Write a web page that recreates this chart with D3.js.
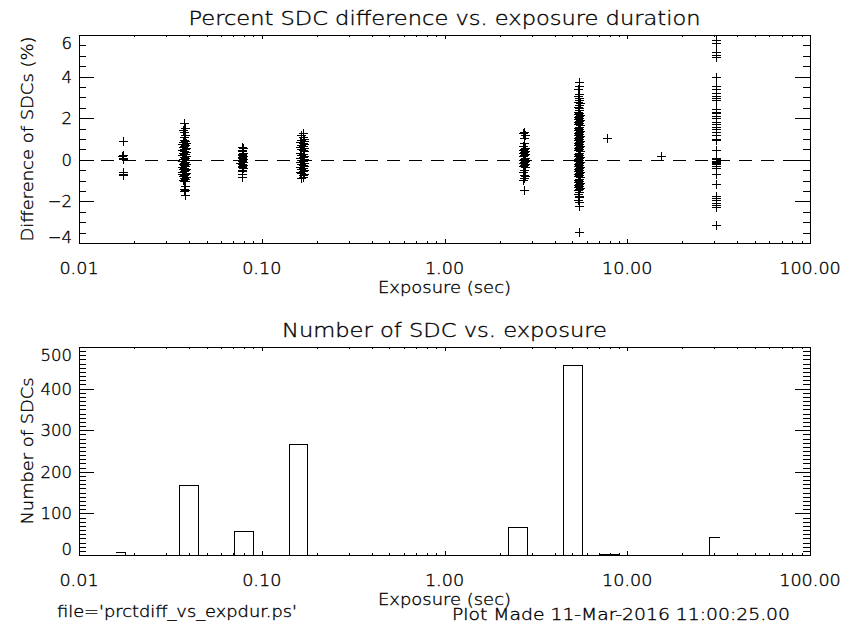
<!DOCTYPE html>
<html>
<head>
<meta charset="utf-8">
<script src="https://cdn.jsdelivr.net/npm/d3@7"></script>
<style>
  html, body { margin: 0; padding: 0; background: #fff; }
  svg { display: block; font-family: "DejaVu Sans", sans-serif; font-weight: 200; }
  text { fill: #000; stroke: #000; stroke-width: 0.35; }
</style>
</head>
<body>
<svg id="chart" width="844" height="632"></svg>
<script>
// Percent SDC difference per frame, as [exposure (s), difference (%)], grouped by exposure setting
const grp0017 = [[0.0173,0.88],[0.0174,0.24],[0.0172,0.16],[0.0174,0.08],[0.0173,0.02],[0.0173,-0.59],[0.0174,-0.69],[0.0173,-0.75]];

const grp0038 = [
  [0.0376,1.76],[0.0381,1.52],[0.0371,1.44],[0.0376,1.36],[0.0381,1.20],[0.0376,1.12],
  [0.0376,0.95],[0.0381,0.90],[0.0371,0.86],[0.0386,0.82],[0.0376,0.78],[0.0366,0.74],[0.0381,0.70],[0.0376,0.66],
  [0.0371,0.62],[0.0386,0.58],[0.0376,0.54],[0.0381,0.50],[0.0366,0.46],[0.0376,0.42],[0.0386,0.38],[0.0371,0.34],
  [0.0381,0.30],[0.0376,0.26],[0.0366,0.22],[0.0386,0.18],[0.0376,0.14],[0.0381,0.10],[0.0371,0.06],[0.0376,0.02],
  [0.0386,-0.02],[0.0366,-0.06],[0.0381,-0.10],[0.0376,-0.14],[0.0371,-0.18],[0.0386,-0.22],[0.0376,-0.26],[0.0381,-0.30],
  [0.0366,-0.34],[0.0376,-0.38],[0.0386,-0.42],[0.0371,-0.46],[0.0381,-0.50],[0.0376,-0.54],[0.0366,-0.58],[0.0386,-0.62],
  [0.0366,-0.66],[0.0381,-0.70],[0.0376,-0.74],[0.0371,-0.78],[0.0386,-0.82],[0.0376,-0.86],[0.0381,-0.90],[0.0371,-0.95],
  [0.0376,-1.00],[0.0381,-1.04],
  [0.0381,-1.28],[0.0376,-1.40],[0.0381,-1.44],[0.0376,-1.52],[0.0381,-1.68]
];

const grp0078 = [
  [0.0784,0.62],[0.0792,0.55],[0.0784,0.48],[0.0776,0.40],[0.0792,0.35],[0.0784,0.30],[0.0776,0.25],[0.0792,0.20],
  [0.0784,0.15],[0.0776,0.10],[0.0792,0.05],[0.0784,0.00],[0.0776,-0.05],[0.0792,-0.10],[0.0760,-0.15],[0.0784,-0.20],
  [0.0792,-0.25],[0.0776,-0.30],[0.0784,-0.35],[0.0792,-0.40],[0.0784,-0.50],[0.0776,-0.56],[0.0784,-0.69],[0.0784,-0.82]
];

const grp0167 = [
  [0.168,1.27],[0.165,1.18],[0.168,1.10],[0.171,1.02],
  [0.165,0.95],[0.171,0.90],[0.162,0.85],[0.168,0.80],[0.171,0.75],[0.165,0.70],[0.168,0.65],[0.162,0.60],
  [0.171,0.55],[0.165,0.50],[0.168,0.45],[0.171,0.40],[0.162,0.35],[0.168,0.30],[0.165,0.25],[0.171,0.20],
  [0.168,0.15],[0.162,0.10],[0.171,0.05],[0.165,0.00],[0.168,-0.05],[0.162,-0.10],[0.171,-0.15],[0.165,-0.20],
  [0.168,-0.25],[0.171,-0.30],[0.162,-0.35],[0.168,-0.40],[0.165,-0.45],[0.171,-0.50],[0.168,-0.55],[0.162,-0.60],
  [0.165,-0.65],[0.171,-0.70],[0.168,-0.75],
  [0.168,-0.82],[0.165,-0.88]
];

const grp27 = [
  [2.72,1.36],[2.69,1.28],[2.75,1.20],[2.72,1.04],[2.72,0.80],[2.69,0.64],
  [2.75,0.56],[2.72,0.51],[2.69,0.46],[2.75,0.41],[2.72,0.36],[2.69,0.31],[2.75,0.26],[2.72,0.21],[2.69,0.16],
  [2.75,0.11],[2.72,0.06],[2.69,0.01],[2.75,-0.04],[2.72,-0.09],[2.69,-0.14],[2.75,-0.19],[2.72,-0.24],[2.69,-0.29],
  [2.75,-0.36],
  [2.72,-0.48],[2.69,-0.60],[2.72,-0.72],[2.75,-0.80],[2.72,-0.88],[2.69,-0.96],[2.72,-1.47]
];

const grp54 = [
  [5.43,3.72],[5.43,3.56],[5.40,3.40],[5.45,3.14],[5.40,3.06],[5.45,2.96],[5.43,2.88],[5.40,2.80],
  [5.48,2.72],[5.43,2.64],[5.40,2.56],[5.45,2.48],[5.43,2.40],[5.38,2.32],
  [5.45,2.25],[5.40,2.20],[5.48,2.15],[5.43,2.10],[5.38,2.05],[5.45,2.00],[5.40,1.95],[5.48,1.90],[5.43,1.85],[5.38,1.80],
  [5.45,1.75],[5.40,1.70],[5.48,1.65],[5.43,1.60],[5.38,1.55],[5.45,1.50],[5.40,1.45],[5.48,1.40],[5.43,1.35],[5.38,1.30],
  [5.45,1.25],[5.40,1.20],[5.48,1.15],[5.43,1.10],[5.38,1.05],[5.45,1.00],[5.40,0.95],[5.48,0.90],[5.43,0.85],[5.38,0.80],
  [5.45,0.75],[5.40,0.70],[5.48,0.65],[5.43,0.60],[5.38,0.55],[5.45,0.50],[5.40,0.45],[5.48,0.40],[5.43,0.35],[5.38,0.30],
  [5.45,0.25],[5.40,0.20],[5.48,0.15],[5.43,0.10],[5.38,0.05],[5.45,0.00],[5.40,-0.05],[5.48,-0.10],[5.43,-0.15],[5.38,-0.20],
  [5.45,-0.25],[5.40,-0.30],[5.48,-0.35],[5.43,-0.40],[5.38,-0.45],[5.45,-0.50],[5.40,-0.55],[5.48,-0.60],[5.43,-0.65],[5.38,-0.70],
  [5.45,-0.75],[5.40,-0.80],[5.48,-0.85],[5.43,-0.90],[5.38,-0.95],[5.45,-1.00],[5.40,-1.05],[5.48,-1.10],[5.43,-1.15],[5.38,-1.20],
  [5.45,-1.25],[5.40,-1.30],[5.48,-1.35],[5.43,-1.40],[5.38,-1.45],
  [5.43,-1.56],[5.40,-1.64],[5.45,-1.72],[5.43,-1.80],[5.40,-1.92],[5.45,-2.04],[5.43,-2.20],[5.43,-3.48]
];

const grp77 = [[7.73,1.07]];
const grp153 = [[15.3,0.19]];

const grp307 = [
  [30.7,5.75],[30.7,5.62],[30.7,5.18],[30.7,5.04],[30.7,4.96],[30.7,4.00],[30.7,3.54],[30.7,3.39],[30.7,3.22],
  [30.7,3.08],[30.7,2.96],[30.7,2.88],[30.7,2.42],[30.7,2.32],[30.7,2.24],[30.7,2.12],[30.7,2.00],[30.7,1.82],
  [30.7,1.72],[30.7,1.60],[30.7,1.46],[30.7,1.32],[30.7,1.20],[30.7,1.00],[30.7,0.94],[30.7,0.46],[30.7,0.08],
  [30.7,0.02],[30.7,-0.04],[30.7,-0.10],[30.7,-0.16],[30.7,-0.22],[30.7,-0.30],[30.7,-0.38],[30.7,-0.70],[30.7,-1.14],
  [30.7,-1.74],[30.7,-1.84],[30.7,-1.94],[30.7,-2.06],[30.7,-2.18],[30.7,-2.28],[30.7,-3.12]
];

// Histogram of frame counts: bin centres (s), 0.1-decade bins, and counts
const histCenters = [0.0158,0.0200,0.0251,0.0316,0.0398,0.0501,0.0631,0.0794,0.1000,0.1259,0.1585,0.1995,
  0.2512,0.3162,0.3981,0.5012,0.6310,0.7943,1.0000,1.2589,1.5849,1.9953,2.5119,3.1623,3.9811,5.0119,
  6.3096,7.9433,10.000,12.589,15.849,19.953,25.119,31.623];
const histCounts = [8,0,0,0,168,0,0,58,0,0,266,0,
  0,0,0,0,0,0,0,0,0,0,68,0,0,456,
  0,2,0,0,1,0,0,44];

// Axis ticks and labels
const xTickValues = [0.01, 0.1, 1, 10, 100];
const xTickLabels = ["0.01", "0.10", "1.00", "10.00", "100.00"];
const diffTicks = [-4, -2, 0, 2, 4, 6];
const diffTickLabels = ["\u22124", "\u22122", "0", "2", "4", "6"];
const countTicks = [0, 100, 200, 300, 400, 500];
const countTickLabels = ["0", "100", "200", "300", "400", "500"];

const svg = d3.select("#chart");
const X0 = 79, X1 = 810;
const FS = 16.5;
// label glyphs are set on a fixed-pitch numeral grid: 11.2 px per digit, 5.6 px per point
const numWidth = s => [...s].reduce((w, c) => w + (c === "." ? 5.6 : 11.2), 0);

const xMinor = [];
[0.01, 0.1, 1, 10].forEach(dec => { for (let k = 2; k <= 9; k++) xMinor.push(dec * k); });

function drawPanel(o) {
  const x = d3.scaleLog().domain([0.01, 100]).range([X0, X1]);
  const y = d3.scaleLinear().domain(o.yDomain).range([o.bottom, o.top]);
  const g = svg.append("g");
  const h = o.bottom - o.top;
  const xMajLen = 0.02 * h, yMajLen = 0.02 * (X1 - X0);

  const strip = s => s.select(".domain").remove();
  // x ticks, bottom and top, pointing inward
  g.append("g").attr("transform", `translate(0,${o.bottom})`)
    .call(d3.axisBottom(x).tickValues(xTickValues).tickSize(-xMajLen).tickFormat("")).call(strip);
  g.append("g").attr("transform", `translate(0,${o.bottom})`)
    .call(d3.axisBottom(x).tickValues(xMinor).tickSize(-xMajLen / 2).tickFormat("")).call(strip);
  g.append("g").attr("transform", `translate(0,${o.top})`)
    .call(d3.axisTop(x).tickValues(xTickValues).tickSize(-xMajLen).tickFormat("")).call(strip);
  g.append("g").attr("transform", `translate(0,${o.top})`)
    .call(d3.axisTop(x).tickValues(xMinor).tickSize(-xMajLen / 2).tickFormat("")).call(strip);
  // y ticks, left and right, pointing inward
  g.append("g").attr("transform", `translate(${X0},0)`)
    .call(d3.axisLeft(y).tickValues(o.yTicks).tickSize(-yMajLen).tickFormat("")).call(strip);
  g.append("g").attr("transform", `translate(${X0},0)`)
    .call(d3.axisLeft(y).tickValues(o.yMinor).tickSize(-yMajLen / 2).tickFormat("")).call(strip);
  g.append("g").attr("transform", `translate(${X1},0)`)
    .call(d3.axisRight(y).tickValues(o.yTicks).tickSize(-yMajLen).tickFormat("")).call(strip);
  g.append("g").attr("transform", `translate(${X1},0)`)
    .call(d3.axisRight(y).tickValues(o.yMinor).tickSize(-yMajLen / 2).tickFormat("")).call(strip);
  g.selectAll(".tick line").attr("stroke", "#000").attr("shape-rendering", "crispEdges");

  // frame
  g.append("rect").attr("x", X0 + 0.5).attr("y", o.top + 0.5)
    .attr("width", X1 - X0).attr("height", h)
    .attr("fill", "none").attr("stroke", "#000").attr("shape-rendering", "crispEdges");

  // x tick labels
  g.selectAll(".xl").data(xTickValues).join("text")
    .attr("x", d => x(d)).attr("y", o.bottom + 31)
    .attr("text-anchor", "middle").attr("font-size", FS)
    .attr("textLength", (d, i) => numWidth(xTickLabels[i])).attr("lengthAdjust", "spacingAndGlyphs")
    .text((d, i) => xTickLabels[i]);
  // y tick labels, kept inside the frame's vertical extent
  g.selectAll(".yl").data(o.yTicks).join("text")
    .attr("x", X0 - 7)
    .attr("y", d => Math.min(Math.max(y(d), o.top + 8), o.bottom - 6) + 6)
    .attr("text-anchor", "end").attr("font-size", FS)
    .text((d, i) => o.yTickLabels[i]);

  // titles
  g.append("text").attr("x", (X0 + X1) / 2).attr("y", o.top - 10)
    .attr("text-anchor", "middle").attr("font-size", 20)
    .attr("textLength", o.titleLen).attr("lengthAdjust", "spacingAndGlyphs").text(o.title);
  g.append("text").attr("x", (X0 + X1) / 2).attr("y", o.bottom + 50)
    .attr("text-anchor", "middle").attr("font-size", FS)
    .attr("textLength", 133).attr("lengthAdjust", "spacingAndGlyphs").text("Exposure (sec)");
  g.append("text")
    .attr("transform", `translate(33,${(o.top + o.bottom) / 2}) rotate(-90)`)
    .attr("text-anchor", "middle").attr("font-size", FS)
    .attr("textLength", o.yTitleLen).attr("lengthAdjust", "spacingAndGlyphs").text(o.yTitle);

  return { g, x, y };
}

// Top panel: percent difference scatter
const diffPanel = drawPanel({
  top: 35, bottom: 243, yDomain: [-4, 6],
  yTicks: diffTicks, yTickLabels: diffTickLabels,
  yMinor: d3.range(-3.5, 6, 0.5).filter(v => Math.abs(v % 2) > 1e-6),
  title: "Percent SDC difference vs. exposure duration", titleLen: 512,
  yTitle: "Difference of SDCs (%)", yTitleLen: 205
});

diffPanel.g.append("line")
  .attr("x1", X0).attr("x2", X1)
  .attr("y1", Math.round(diffPanel.y(0)) + 0.5).attr("y2", Math.round(diffPanel.y(0)) + 0.5)
  .attr("stroke", "#000").attr("stroke-dasharray", "13,9");

const allPoints = [].concat(grp0017, grp0038, grp0078, grp0167, grp27, grp54, grp77, grp153, grp307);
diffPanel.g.append("path")
  .attr("fill", "none").attr("stroke", "#000").attr("stroke-width", 1)
  .attr("shape-rendering", "crispEdges")
  .attr("d", allPoints.map(([e, v]) => {
    const px = Math.round(diffPanel.x(e)), py = Math.round(diffPanel.y(v));
    return `M${px - 4},${py + 0.5}H${px + 5}M${px + 0.5},${py - 4}V${py + 5}`;
  }).join(""));

// Bottom panel: frame count histogram
const countPanel = drawPanel({
  top: 347, bottom: 555, yDomain: [0, 500],
  yTicks: countTicks, yTickLabels: countTickLabels,
  yMinor: d3.range(10, 500, 10).filter(v => v % 100 !== 0),
  title: "Number of SDC vs. exposure", titleLen: 325,
  yTitle: "Number of SDCs", yTitleLen: 147
});

const hp = histCenters.map((c, i) => [countPanel.x(c), Math.round(countPanel.y(histCounts[i])) + 0.5]);
let hd = `M${Math.round(hp[0][0]) + 0.5},${hp[0][1]}`;
for (let i = 0; i < hp.length - 1; i++) {
  const mid = Math.round((hp[i][0] + hp[i + 1][0]) / 2) + 0.5;
  hd += `H${mid}V${hp[i + 1][1]}`;
}
hd += `H${Math.round(hp[hp.length - 1][0]) + 0.5}`;
countPanel.g.append("path").attr("d", hd)
  .attr("fill", "none").attr("stroke", "#000").attr("shape-rendering", "crispEdges");

// Footer
svg.append("text").attr("x", 57).attr("y", 617).attr("font-size", 15.5)
  .attr("textLength", 240).attr("lengthAdjust", "spacingAndGlyphs")
  .text("file='prctdiff_vs_expdur.ps'");
svg.append("text").attr("x", 452).attr("y", 620).attr("font-size", 15.5)
  .attr("textLength", 338).attr("lengthAdjust", "spacingAndGlyphs")
  .text("Plot Made 11-Mar-2016 11:00:25.00");
</script>
</body>
</html>
